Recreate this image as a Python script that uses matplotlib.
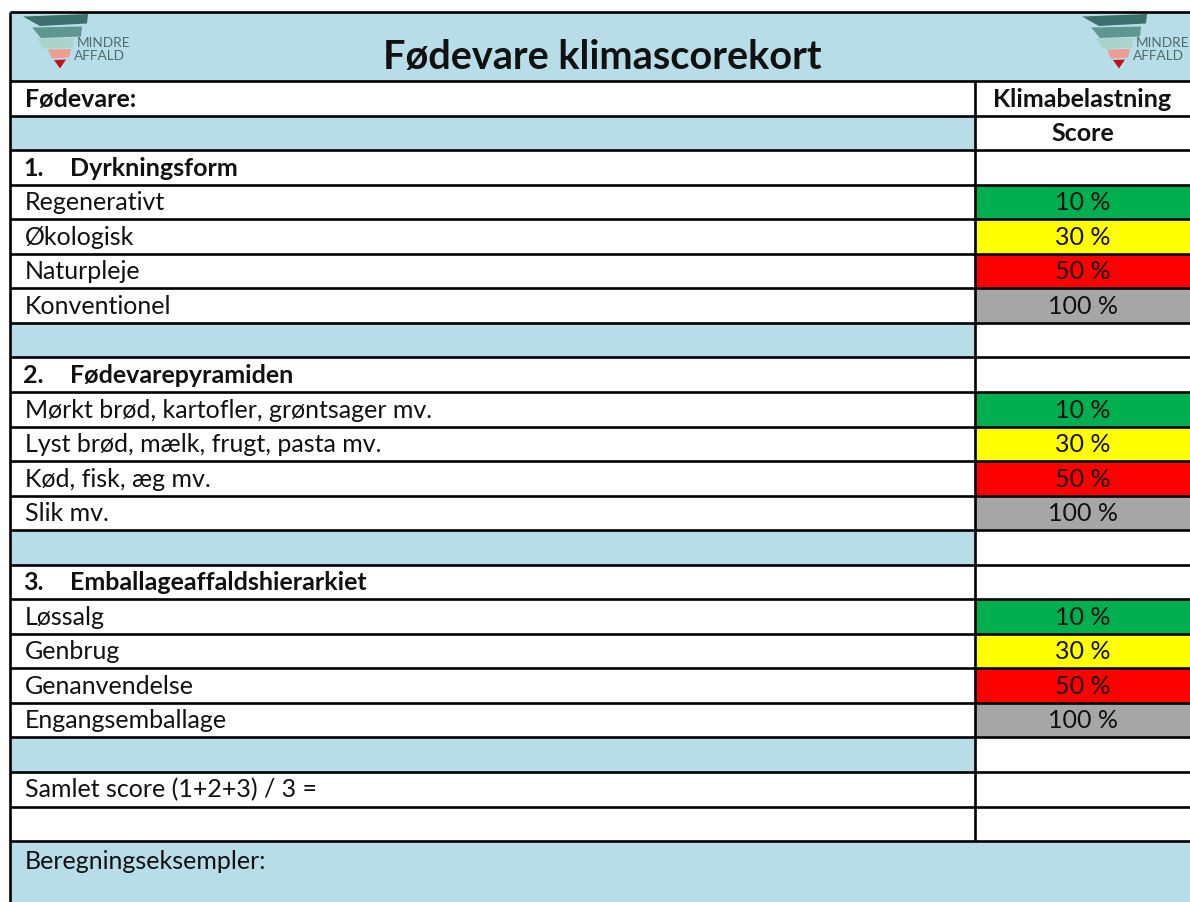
import matplotlib
matplotlib.use("Agg")
import matplotlib.pyplot as plt
from matplotlib.patches import Rectangle, Polygon

# ---------------- data ----------------
title = "Fødevare klimascorekort"
col_header_left = "Fødevare:"
col_header_right = ["Klimabelastning", "Score"]
section_titles = ["Dyrkningsform", "Fødevarepyramiden", "Emballageaffaldshierarkiet"]
section_items = [
    ["Regenerativt", "Økologisk", "Naturpleje", "Konventionel"],
    ["Mørkt brød, kartofler, grøntsager mv.", "Lyst brød, mælk, frugt, pasta mv.",
     "Kød, fisk, æg mv.", "Slik mv."],
    ["Løssalg", "Genbrug", "Genanvendelse", "Engangsemballage"],
]
scores = [10, 30, 50, 100]
score_colors = ["#00B050", "#FFFF00", "#FF0000", "#A6A6A6"]
total_label = "Samlet score (1+2+3) / 3 ="
examples_label = "Beregningseksempler:"
logo_words = ["MINDRE", "AFFALD"]

# ---------------- style ----------------
BLUE = "#B7DEE8"
TXT = "#111111"
FONT = "Lato"
W, H = 1190, 902
X_LEFT = 10
X_DIV = 975
Y_TOP = 12
Y_TITLE_BOT = 81
ROW_H = 34.55
LW = 1.9
FS = 18

fig = plt.figure(figsize=(W / 100, H / 100), dpi=100)
ax = fig.add_axes([0, 0, 1, 1])
ax.set_xlim(0, W)
ax.set_ylim(H, 0)
ax.axis("off")

# build row list: (kind, payload)
rows = [("header", None), ("blue", None)]
for i, (st, items) in enumerate(zip(section_titles, section_items)):
    rows.append(("section", (i + 1, st)))
    for it, sc, colr in zip(items, scores, score_colors):
        rows.append(("item", (it, sc, colr)))
    rows.append(("blue", None))
rows.append(("total", None))
rows.append(("empty", None))

# title band
ax.add_patch(Rectangle((X_LEFT, Y_TOP), W - X_LEFT, Y_TITLE_BOT - Y_TOP, facecolor=BLUE, edgecolor="none"))
ax.text(602, 68.5, title, fontsize=28.5, fontweight="bold", family=FONT,
        color=TXT, ha="center", va="baseline")


def draw_logo(ox, oy):
    shapes = [
        ("#3B706C", [(23, 16.5), (88, 14), (87, 23.5), (40, 26)]),
        ("#5E9790", [(32, 27.5), (82, 26.5), (81, 36.5), (41, 38)]),
        ("#A8D5CA", [(37, 38.5), (74, 38), (73, 47.5), (44, 49)]),
        ("#EE9D92", [(48, 49.5), (71, 49), (69, 57.5), (52, 58.5)]),
        ("#C0141B", [(54, 60), (66, 59.5), (60, 68.5)]),
    ]
    for c, pts in shapes:
        ax.add_patch(Polygon([(ox + x, oy + y) for x, y in pts], closed=True,
                             facecolor=c, edgecolor="none"))
    ax.text(ox + 77, oy + 43, logo_words[0], fontsize=9.8, family=FONT, fontweight="normal",
            color="#4F6A6A", ha="left", va="center")
    ax.text(ox + 74, oy + 56, logo_words[1], fontsize=9.8, family=FONT, fontweight="normal",
            color="#4F6A6A", ha="left", va="center")


draw_logo(0, 0)
draw_logo(1059, 0)

# rows
for r, (kind, payload) in enumerate(rows):
    y0 = Y_TITLE_BOT + r * ROW_H
    y1 = y0 + ROW_H
    base = y1 - 9
    if kind == "blue":
        ax.add_patch(Rectangle((X_LEFT, y0), X_DIV - X_LEFT, ROW_H, facecolor=BLUE, edgecolor="none"))
    if kind == "header":
        ax.text(25, base, col_header_left, fontsize=FS, fontweight="bold", family=FONT,
                color=TXT, ha="left", va="baseline")
        ax.text((X_DIV + W) / 2, base, col_header_right[0], fontsize=FS, fontweight="bold",
                family=FONT, color=TXT, ha="center", va="baseline")
    if r == 1:
        ax.text((X_DIV + W) / 2, base, col_header_right[1], fontsize=FS, fontweight="bold",
                family=FONT, color=TXT, ha="center", va="baseline")
    if kind == "section":
        n, st = payload
        ax.text(23, base, f"{n}.", fontsize=FS, fontweight="bold", family=FONT,
                color=TXT, ha="left", va="baseline")
        ax.text(70, base, st, fontsize=FS, fontweight="bold", family=FONT,
                color=TXT, ha="left", va="baseline")
    if kind == "item":
        it, sc, colr = payload
        ax.add_patch(Rectangle((X_DIV, y0), W - X_DIV, ROW_H, facecolor=colr, edgecolor="none"))
        ax.text(25, base, it, fontsize=FS, family=FONT, color=TXT, ha="left", va="baseline")
        ax.text((X_DIV + W) / 2, base, f"{sc} %", fontsize=FS, family=FONT, color=TXT,
                ha="center", va="baseline")
    if kind == "total":
        ax.text(25, base, total_label, fontsize=FS, family=FONT, color=TXT, ha="left", va="baseline")

y_end = Y_TITLE_BOT + len(rows) * ROW_H
# examples band
ax.add_patch(Rectangle((X_LEFT, y_end), W - X_LEFT, H - y_end + 5, facecolor=BLUE, edgecolor="none"))
ax.text(25, y_end + 28, examples_label, fontsize=FS, family=FONT, color=TXT, ha="left", va="baseline")

# grid lines
ax.plot([X_LEFT, W], [Y_TOP, Y_TOP], color="black", lw=LW, solid_capstyle="butt")
for r in range(len(rows) + 1):
    y = Y_TITLE_BOT + r * ROW_H
    ax.plot([X_LEFT, W], [y, y], color="black", lw=LW, solid_capstyle="butt")
ax.plot([X_LEFT, X_LEFT], [Y_TOP, H], color="black", lw=LW, solid_capstyle="butt")
ax.plot([X_DIV, X_DIV], [Y_TITLE_BOT, y_end], color="black", lw=LW, solid_capstyle="butt")

fig.savefig("out.png", dpi=100)
